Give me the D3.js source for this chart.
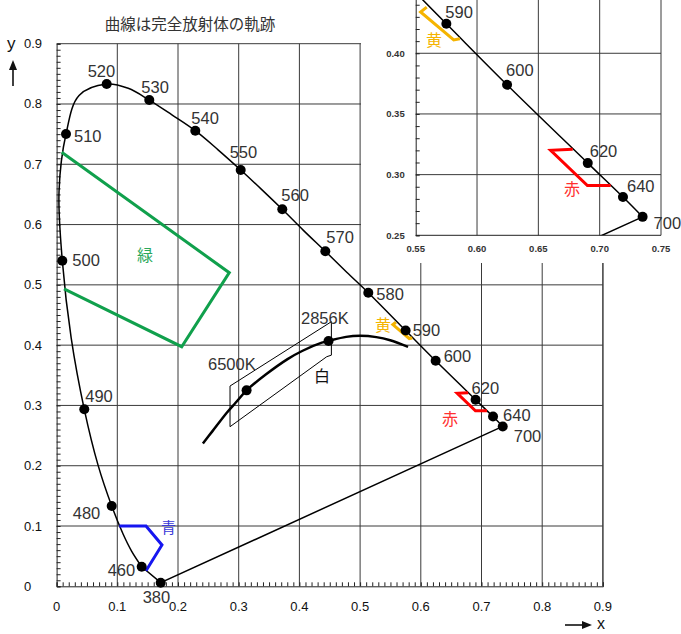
<!DOCTYPE html>
<html><head><meta charset="utf-8">
<script src="https://cdn.jsdelivr.net/npm/d3@7"></script>
<style>body{margin:0;background:#fff}svg{display:block}</style>
</head><body>
<svg id="c" width="681" height="634"></svg>
<script>
// ---- data ----
const title = "曲線は完全放射体の軌跡";
const wavelengths = [380,460,470,475,480,485,490,495,500,505,510,515,520,525,530,535,540,545,550,555,560,565,570,575,580,590,600,620,640,700];
const locusX = [0.1715,0.1402,0.1235,0.1095,0.0908,0.0683,0.0456,0.0240,0.0094,0.0040,0.0155,0.0370,0.0825,0.1180,0.1527,0.1900,0.2285,0.2660,0.3033,0.3380,0.3718,0.4070,0.4427,0.4780,0.5135,0.5750,0.6245,0.6903,0.7190,0.7350];
const locusY = [0.0060,0.0325,0.0585,0.0868,0.1332,0.2010,0.2936,0.4120,0.5401,0.6550,0.7502,0.8140,0.8331,0.8260,0.8065,0.7820,0.7557,0.7240,0.6905,0.6580,0.6253,0.5900,0.5557,0.5210,0.4870,0.4243,0.3740,0.3095,0.2815,0.2652];
const labeledWl = [380,460,480,490,500,510,520,530,540,550,560,570,580,590,600,620,640,700];
const insetWl = [590,600,620,640,700];
const planckX = [0.241,0.2565,0.2807,0.2952,0.313,0.3451,0.3805,0.4053,0.4369,0.448,0.4770,0.4998,0.5267,0.5496,0.579];
const planckY = [0.237,0.2570,0.2883,0.3048,0.325,0.3516,0.3768,0.3907,0.4041,0.407,0.4137,0.4154,0.4133,0.4081,0.397];
const whiteMarks = [{x:0.313,y:0.325,label:"6500K"},{x:0.448,y:0.407,label:"2856K"}];
const whiteX = [0.2857,0.4527,0.4527,0.4450,0.2857,0.2857];
const whiteY = [0.3322,0.4389,0.3834,0.3808,0.2647,0.3322];
const greenX = [0.0084,0.2845,0.2061,0.0122];
const greenY = [0.7198,0.5202,0.3974,0.4932];
const blueX = [0.1033,0.1473,0.1736,0.1473];
const blueY = [0.1000,0.1000,0.0685,0.0259];
const yellowX = [0.559,0.554,0.581,0.586];
const yellowY = [0.438,0.434,0.411,0.412];
const redX = [0.678,0.660,0.690,0.709];
const redY = [0.321,0.320,0.291,0.291];
const xTicks = [0,0.1,0.2,0.3,0.4,0.5,0.6,0.7,0.8,0.9];
const yTicks = [0,0.1,0.2,0.3,0.4,0.5,0.6,0.7,0.8,0.9];
const insetXTicks = [0.55,0.60,0.65,0.70,0.75];
const insetYTicks = [0.25,0.30,0.35,0.40];

// ---- layout ----
const svg = d3.select("#c");
const x = d3.scaleLinear([0,0.9],[56.6,602.9]);
const y = d3.scaleLinear([0,0.9],[586.3,43.7]);
const xi = d3.scaleLinear([0.55,0.75],[415.7,661]);
const yi = d3.scaleLinear([0.25,0.45],[235.3,-7.4]);
const FONT = "'Liberation Sans', Arial, sans-serif";
const CJK = "'Noto Sans CJK JP', sans-serif";
const GRID = "#3a3a3a";

const mainLabelOff = {380:[-18,20],460:[-34,9],480:[-39,13],490:[1,-7],500:[10,5],510:[8,8],520:[-19,-7],530:[-8,-7],540:[-4,-7],550:[-11,-12],560:[-1,-8],570:[1,-8],580:[8,7],590:[7,6],600:[8,1],620:[-4,-6],640:[10,4],700:[11,16]};
const insetLabelOff = {590:[-1,-6],600:[-1,-9],620:[2,-6],640:[4,-5],700:[11,12]};

const locus = wavelengths.map((w,i)=>({w, x:locusX[i], y:locusY[i]}));
const pts = (xs,ys)=>xs.map((v,i)=>[v,ys[i]]);

// title
svg.append("text").attr("x",190).attr("y",30).attr("text-anchor","middle")
  .attr("font-family",CJK).attr("font-size",15.5).attr("fill","#333").text(title);

// main grid
const g = svg.append("g");
g.selectAll(".vg").data(xTicks.slice(1)).join("line")
  .attr("x1",d=>x(d)).attr("x2",d=>x(d)).attr("y1",y(0)).attr("y2",y(0.9))
  .attr("stroke",GRID).attr("stroke-width",1);
g.selectAll(".hg").data(yTicks.slice(1)).join("line")
  .attr("x1",x(0)).attr("x2",x(0.9)).attr("y1",d=>y(d)).attr("y2",d=>y(d))
  .attr("stroke",GRID).attr("stroke-width",1);

// axes with minor ticks
const yAxis = d3.axisRight(y).ticks(90).tickSize(4).tickFormat("");
g.append("g").attr("transform",`translate(${x(0)},0)`).call(yAxis)
  .call(s=>{s.selectAll("path,line").attr("stroke","#222");});
const xAxis = d3.axisTop(x).ticks(90).tickSize(4).tickFormat("");
g.append("g").attr("transform",`translate(0,${y(0)})`).call(xAxis)
  .call(s=>{s.selectAll("path,line").attr("stroke","#222");});

// tick labels
g.selectAll(".yl").data(yTicks).join("text")
  .attr("x",24).attr("y",d=>y(d)+4.5).attr("font-family",FONT).attr("font-size",13)
  .attr("fill","#111").text(d=>d===0?"0":d3.format(".1f")(d));
g.selectAll(".xl").data(xTicks).join("text")
  .attr("x",d=>x(d)).attr("y",y(0)+25).attr("text-anchor","middle").attr("font-family",FONT)
  .attr("font-size",13).attr("fill","#111").text(d=>d===0?"0":d3.format(".1f")(d));

// axis names with arrows
svg.append("text").attr("x",7).attr("y",49).attr("font-family",FONT).attr("font-size",17).attr("fill","#111").text("y");
svg.append("line").attr("x1",13).attr("x2",13).attr("y1",86).attr("y2",66).attr("stroke","#111").attr("stroke-width",1.6);
svg.append("path").attr("d","M13,60 L9,70 L17,70 Z").attr("fill","#111");
svg.append("line").attr("x1",565).attr("x2",585).attr("y1",625).attr("y2",625).attr("stroke","#111").attr("stroke-width",1.6);
svg.append("path").attr("d","M592,625 L582,621 L582,629 Z").attr("fill","#111");
svg.append("text").attr("x",597).attr("y",629).attr("font-family",FONT).attr("font-size",16).attr("fill","#111").text("x");

function drawDiagram(root, sx, sy, opts){
  const lineC = d3.line().x(d=>sx(d.x)).y(d=>sy(d.y)).curve(d3.curveCatmullRom.alpha(0.5));
  const lineS = d3.line().x(d=>sx(d[0])).y(d=>sy(d[1]));
  const curved = locus.filter(d=>d.w>=460);
  root.append("path").attr("d",lineC(curved)).attr("fill","none").attr("stroke","#000").attr("stroke-width",1.5);
  const l380 = locus[0], l460 = locus[1], l700 = locus[locus.length-1];
  root.append("path").attr("d",lineS([[l460.x,l460.y],[l380.x,l380.y],[l700.x,l700.y]]))
    .attr("fill","none").attr("stroke","#000").attr("stroke-width",1.5);
  if(opts.full){
    root.append("path").attr("d",lineS(pts(greenX,greenY))).attr("fill","none").attr("stroke","#10a04c").attr("stroke-width",3);
    root.append("path").attr("d",lineS(pts(blueX,blueY))).attr("fill","none").attr("stroke","#1616f0").attr("stroke-width",3);
    root.append("path").attr("d",lineS(pts(whiteX,whiteY))).attr("fill","none").attr("stroke","#000").attr("stroke-width",1);
    const pl = planckX.map((v,i)=>({x:v,y:planckY[i]}));
    root.append("path").attr("d",lineC(pl)).attr("fill","none").attr("stroke","#000").attr("stroke-width",2.5);
    root.selectAll(".wd").data(whiteMarks).join("circle").attr("cx",d=>sx(d.x)).attr("cy",d=>sy(d.y)).attr("r",5).attr("fill","#000");
  }
  root.append("path").attr("d",lineS(pts(yellowX,yellowY))).attr("fill","none").attr("stroke","#f5b400").attr("stroke-width",3);
  root.append("path").attr("d",lineS(pts(redX,redY))).attr("fill","none").attr("stroke","#f00").attr("stroke-width",3);
  const lab = locus.filter(d=>opts.wl.includes(d.w));
  root.selectAll(".dot").data(lab).join("circle").attr("cx",d=>sx(d.x)).attr("cy",d=>sy(d.y)).attr("r",5).attr("fill","#000");
  const labRoot = opts.labelRoot || root;
  labRoot.selectAll(".wl").data(lab).join("text")
    .attr("x",d=>sx(d.x)+opts.off[d.w][0]).attr("y",d=>sy(d.y)+opts.off[d.w][1])
    .attr("font-family",FONT).attr("font-size",16.5).attr("fill","#333").text(d=>d.w);
}

drawDiagram(g, x, y, {full:true, wl:labeledWl, off:mainLabelOff});

// main colored labels
const cl = (t,px,py,c,fs)=>svg.append("text").attr("x",px).attr("y",py).attr("font-family",CJK).attr("font-size",fs).attr("fill",c).text(t);
cl("緑",137,261,"#2aa85a",16);
cl("青",161,533,"#3a3ad8",15);
cl("黄",375,331,"#f5b400",16);
cl("赤",442,425,"#ff3030",16);
cl("白",314,382,"#111",16);
svg.selectAll(".wt").data(whiteMarks).join("text")
  .attr("x",(d,i)=>i===0?208:301).attr("y",(d,i)=>i===0?370:324)
  .attr("font-family",FONT).attr("font-size",16.5).attr("fill","#333").text(d=>d.label);

// main frame
svg.append("line").attr("x1",x(0.9)).attr("x2",x(0.9)).attr("y1",y(0)).attr("y2",y(0.9)).attr("stroke",GRID);

// ---- inset ----
const ins = svg.append("g");
ins.append("rect").attr("x",361).attr("y",0).attr("width",320).attr("height",263).attr("fill","#fff");
svg.append("defs").append("clipPath").attr("id","ic").append("rect")
  .attr("x",xi(0.55)).attr("y",yi(0.45)).attr("width",xi(0.75)-xi(0.55)).attr("height",yi(0.25)-yi(0.45));
ins.selectAll(".ivg").data(insetXTicks.slice(1)).join("line")
  .attr("x1",d=>xi(d)).attr("x2",d=>xi(d)).attr("y1",yi(0.25)).attr("y2",yi(0.45)).attr("stroke",GRID);
ins.selectAll(".ihg").data([0.30,0.35,0.40]).join("line")
  .attr("x1",xi(0.55)).attr("x2",xi(0.75)).attr("y1",d=>yi(d)).attr("y2",d=>yi(d)).attr("stroke",GRID);
ins.append("g").attr("transform",`translate(${xi(0.55)},0)`).call(d3.axisRight(yi).ticks(20).tickSize(4).tickFormat(""))
  .call(s=>s.selectAll("path,line").attr("stroke","#222"));
ins.append("line").attr("x1",xi(0.55)).attr("x2",xi(0.75)).attr("y1",yi(0.25)).attr("y2",yi(0.25)).attr("stroke","#222");
ins.selectAll(".iyl").data(insetYTicks).join("text")
  .attr("x",xi(0.55)-11).attr("y",d=>yi(d)+3.5).attr("text-anchor","end").attr("font-family",FONT)
  .attr("font-weight","bold").attr("font-size",9.5).attr("fill","#333").text(d=>d3.format(".2f")(d));
ins.selectAll(".ixl").data(insetXTicks).join("text")
  .attr("x",d=>xi(d)).attr("y",yi(0.25)+17).attr("text-anchor","middle").attr("font-family",FONT)
  .attr("font-weight","bold").attr("font-size",9.5).attr("fill","#333").text(d=>d3.format(".2f")(d));
const inner = ins.append("g").attr("clip-path","url(#ic)");
const innerLabels = ins.append("g");
drawDiagram(inner, xi, yi, {full:false, wl:insetWl, off:insetLabelOff, labelRoot:innerLabels});
ins.append("text").attr("x",426).attr("y",46).attr("font-family",CJK).attr("font-size",16).attr("fill","#f5b400").text("黄");
ins.append("text").attr("x",564).attr("y",195).attr("font-family",CJK).attr("font-size",16).attr("fill","#ff3030").text("赤");
</script>
</body></html>
